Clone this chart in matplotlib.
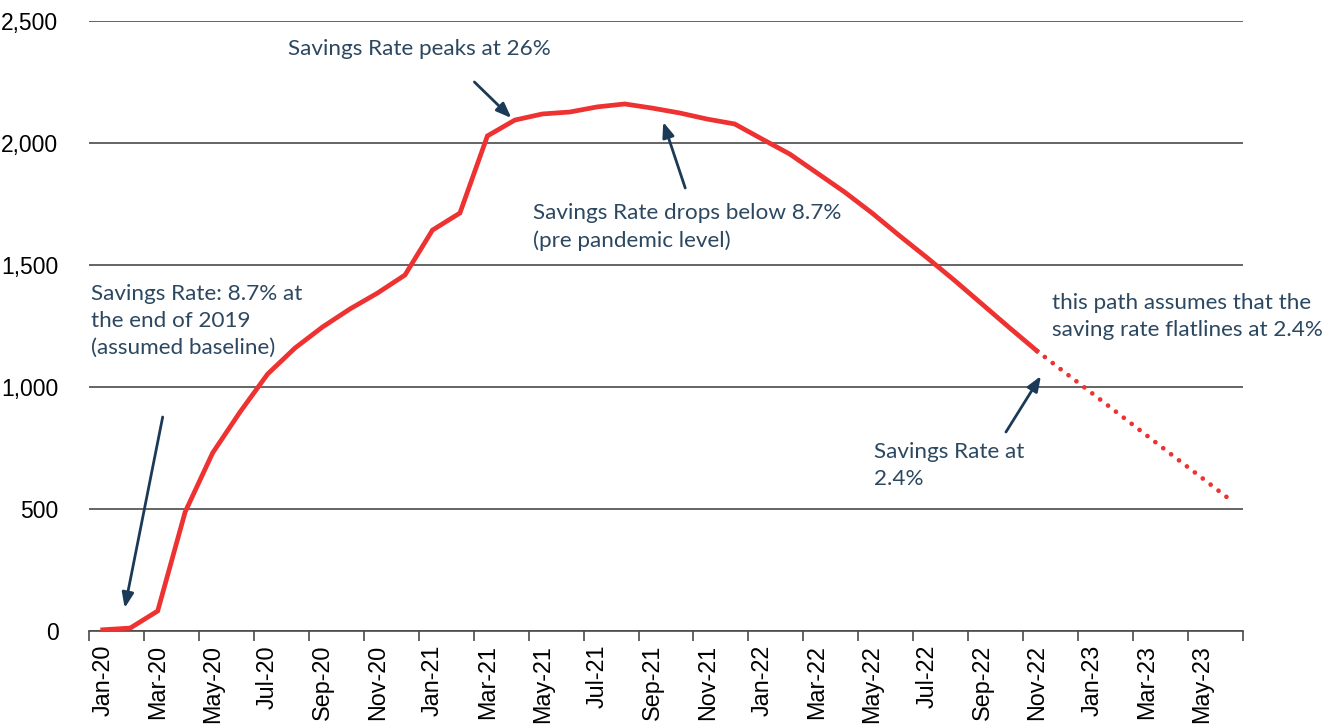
import matplotlib.pyplot as plt

# monthly categories Jan-20 .. Jun-23
months = ['Jan-20', 'Feb-20', 'Mar-20', 'Apr-20', 'May-20', 'Jun-20', 'Jul-20', 'Aug-20',
          'Sep-20', 'Oct-20', 'Nov-20', 'Dec-20', 'Jan-21', 'Feb-21', 'Mar-21', 'Apr-21',
          'May-21', 'Jun-21', 'Jul-21', 'Aug-21', 'Sep-21', 'Oct-21', 'Nov-21', 'Dec-21',
          'Jan-22', 'Feb-22', 'Mar-22', 'Apr-22', 'May-22', 'Jun-22', 'Jul-22', 'Aug-22',
          'Sep-22', 'Oct-22', 'Nov-22', 'Dec-22', 'Jan-23', 'Feb-23', 'Mar-23', 'Apr-23',
          'May-23', 'Jun-23']

# actual excess savings path (Jan-20 .. Nov-22)
actual = [5, 12, 82, 488, 730, 898, 1053, 1160, 1246, 1320, 1385, 1459,
          1643, 1713, 2029, 2094, 2119, 2127, 2148, 2160, 2143, 2123, 2098, 2078,
          2016, 1955, 1877, 1799, 1713, 1620, 1530, 1437, 1340, 1243, 1148]

# projected path (Nov-22 .. Jun-23)
projected = [1148, 1061, 975, 888, 801, 714, 628, 541]

RED = '#ee3131'
NAVY = '#1b3a57'
TXT = '#2c4861'
GRID = '#4a4a4a'

plt.rcParams['font.family'] = ['Liberation Sans', 'DejaVu Sans']

fig = plt.figure(figsize=(13.31, 7.26), dpi=100)
ax = fig.add_axes([89 / 1331, 1 - 631 / 726, (1243 - 89) / 1331, (631 - 21) / 726])

x_act = list(range(len(actual)))
x_proj = list(range(len(actual) - 1, len(actual) - 1 + len(projected)))

ax.plot(x_act, actual, color=RED, lw=3.4, solid_joinstyle='miter', zorder=3)
ax.plot(x_proj, projected, color=RED, lw=3.4, linestyle=(0, (0.01, 2.1)),
        dash_capstyle='round', zorder=3)

ax.set_xlim(-0.5, len(months) - 0.5)
ax.set_ylim(0, 2500)

# y axis: gridlines only
ax.set_yticks(range(0, 2501, 500))
ax.set_yticklabels([f'{v:,}' for v in range(0, 2501, 500)], fontsize=16.5)
ax.yaxis.grid(True, color=GRID, lw=1.2)
ax.tick_params(axis='y', length=0, pad=22)
ax.set_axisbelow(True)

# x axis: ticks between categories, labels on every second month
ax.set_xticks([i - 0.5 for i in range(0, len(months) + 1, 2)])
ax.set_xticklabels([])
ax.set_xticks(range(0, len(months), 2), minor=True)
ax.set_xticklabels(months[::2], minor=True, rotation=90, fontsize=16.8)
ax.tick_params(axis='x', which='major', length=7, width=1.2, color=GRID, direction='out')
ax.tick_params(axis='x', which='minor', length=0, pad=10)

for s in ['top', 'right', 'left']:
    ax.spines[s].set_visible(False)
ax.spines['bottom'].set_color(GRID)
ax.spines['bottom'].set_linewidth(1.2)


def px(xp, yp):
    # pixel position of the reference picture -> data coords
    return (xp - 103) / 27.5, (631 - yp) / 0.244


note = dict(color=TXT, fontsize=16.2, family=['Lato', 'DejaVu Sans'],
            ha='left', va='top', linespacing=1.42)
arrow = dict(arrowstyle='-|>,head_length=0.9,head_width=0.35', color=NAVY, lw=2,
             shrinkA=0, shrinkB=0)

ax.text(*px(288, 39), 'Savings Rate peaks at 26%', **note)
ax.annotate('', xy=px(512, 118), xytext=px(475, 82), arrowprops=arrow)

ax.text(*px(534, 203), 'Savings Rate drops below 8.7%\n(pre pandemic level)', **note)
ax.annotate('', xy=px(664, 122), xytext=px(686, 188), arrowprops=arrow)

ax.text(*px(91, 284), 'Savings Rate: 8.7% at\nthe end of 2019\n(assumed baseline)', **note)
ax.annotate('', xy=px(125, 608), xytext=px(163, 417), arrowprops=arrow)

ax.text(*px(875, 442), 'Savings Rate at\n2.4%', **note)
ax.annotate('', xy=px(1042, 376), xytext=px(1007, 432), arrowprops=arrow)

ax.text(*px(1053, 293), 'this path assumes that the\nsaving rate flatlines at 2.4%', **note)

fig.savefig('out.png', dpi=100)
